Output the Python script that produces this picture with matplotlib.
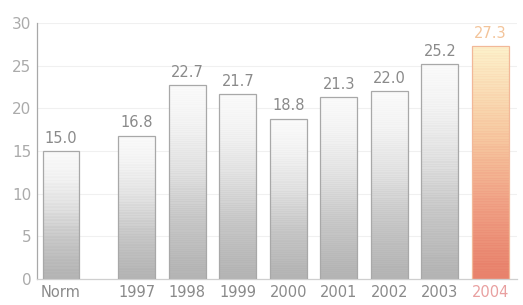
import numpy as np
import matplotlib
matplotlib.use("Agg")
import matplotlib.pyplot as plt
from matplotlib.colors import LinearSegmentedColormap
from matplotlib.patches import Rectangle

categories = ["Norm", "1997", "1998", "1999", "2000", "2001", "2002", "2003", "2004"]
values = [15.0, 16.8, 22.7, 21.7, 18.8, 21.3, 22.0, 25.2, 27.3]
value_labels = ["15.0", "16.8", "22.7", "21.7", "18.8", "21.3", "22.0", "25.2", "27.3"]
yticks = [0, 5, 10, 15, 20, 25, 30]
positions = [0, 1.5, 2.5, 3.5, 4.5, 5.5, 6.5, 7.5, 8.5]

plt.rcParams['font.family'] = ['Liberation Sans Narrow', 'DejaVu Sans']

fig = plt.figure(figsize=(5.23, 3.05), dpi=100)
ax = fig.add_axes([0.0707, 0.085, 0.918, 0.84])

grey_cmap = LinearSegmentedColormap.from_list(
    "g", [(0, "#b4b4b4"), (0.3, "#c8c8c8"), (0.55, "#e2e2e2"), (0.8, "#f4f4f4"), (1, "#fbfbfb")])
warm_cmap = LinearSegmentedColormap.from_list(
    "w", [(0, "#e8826c"), (0.3, "#f0a084"), (0.6, "#f7c8a0"), (1, "#fdf2cc")])

for y in yticks:
    ax.axhline(y, color="#f0f0f0", lw=0.8, zorder=0)

width = 0.73
nrows = 180
for i, (p, v) in enumerate(zip(positions, values)):
    cmap = warm_cmap if i == len(values) - 1 else grey_cmap
    t = np.linspace(0, 1, nrows)
    stripes = -0.05 * (np.arange(nrows) % 2)
    grad = np.clip(t + stripes, 0, 1)[::-1].reshape(-1, 1)
    im = ax.imshow(grad, cmap=cmap, vmin=0, vmax=1, aspect="auto",
                   extent=[p - width / 2, p + width / 2, 0, v], zorder=2,
                   interpolation="nearest")
    edge = "#f2b898" if i == len(values) - 1 else "#a8a8a8"
    rect = Rectangle((p - width / 2, 0), width, v, facecolor="none",
                     edgecolor=edge, lw=0.9, zorder=3)
    ax.add_patch(rect)
    im.set_clip_path(rect)
    color = "#f3c49a" if i == len(values) - 1 else "#8a8a8a"
    ax.text(p, v + 0.6, value_labels[i], ha="center", va="bottom",
            fontsize=10.5, color=color, zorder=4)

ax.set_xlim(-0.475, 9.03)
ax.set_ylim(0, 30)

ax.set_xticks(positions)
ax.set_xticklabels(categories, fontsize=10.5)
for i, lbl in enumerate(ax.get_xticklabels()):
    lbl.set_color("#e9a0a0" if i == len(categories) - 1 else "#8a8a8a")
ax.set_yticks(yticks)
ax.set_yticklabels([str(v) for v in yticks], fontsize=11, color="#ababab")
ax.tick_params(axis="x", length=0, pad=4)
ax.tick_params(axis="y", length=0, pad=4)

for s in ["top", "right"]:
    ax.spines[s].set_visible(False)
ax.spines["left"].set_color("#a8a8a8")
ax.spines["left"].set_linewidth(0.9)
ax.spines["bottom"].set_color("#cfcfcf")
ax.spines["bottom"].set_linewidth(0.9)

fig.savefig("out.png", dpi=100)
